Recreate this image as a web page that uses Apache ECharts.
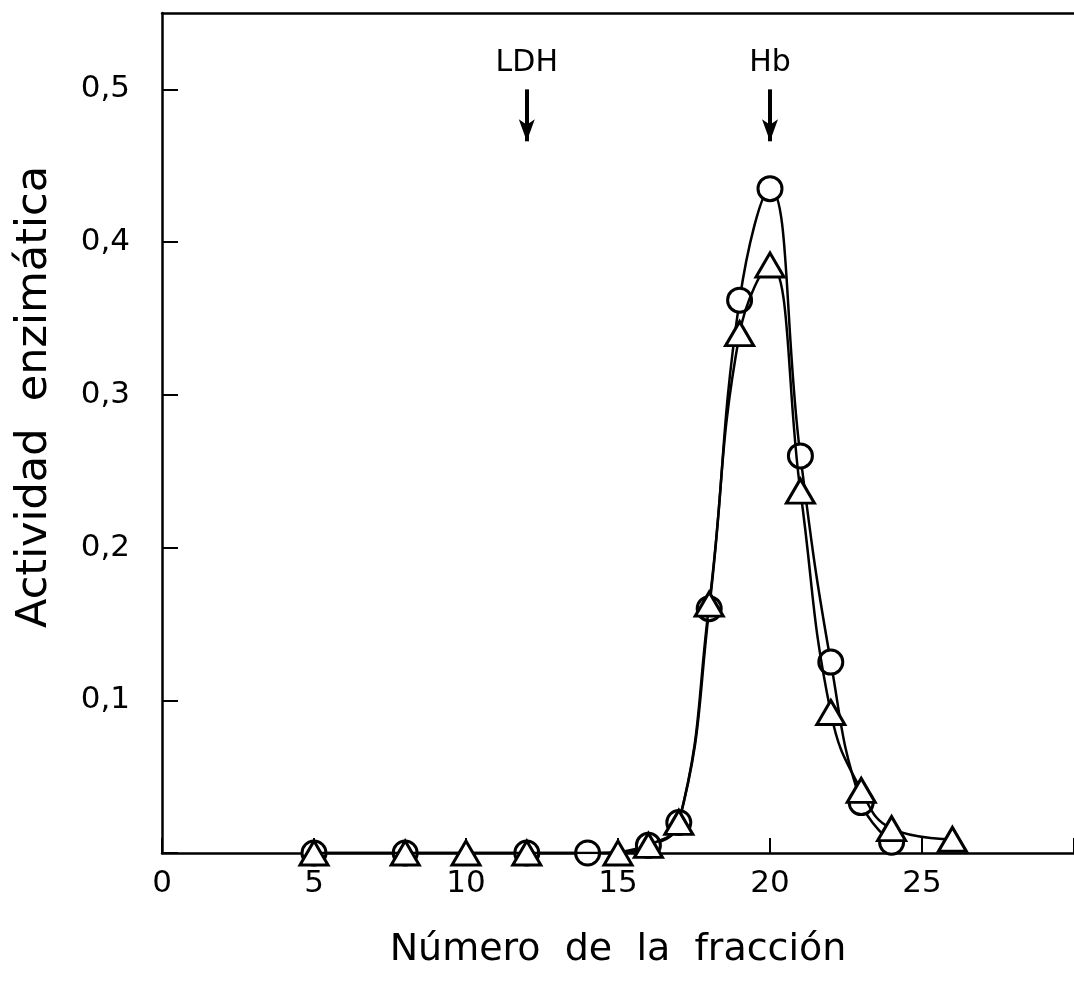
<!DOCTYPE html>
<html>
<head>
<meta charset="utf-8">
<script src="https://cdn.jsdelivr.net/npm/echarts@6/dist/echarts.min.js"></script>
<style>
  html, body { margin: 0; padding: 0; background: #fff; }
  #chart { width: 1074px; height: 985px; }
</style>
</head>
<body>
<div id="chart"></div>
<script>
// fracciones y actividad (circulos)
var circleX = [5, 8, 12, 14, 16, 17, 18, 19, 20, 21, 22, 23, 24];
var circleY = [0, 0, 0, 0, 0.005, 0.02, 0.16, 0.362, 0.435, 0.26, 0.125, 0.033, 0.007];
// triangulos
var triX = [5, 8, 10, 12, 15, 16, 17, 18, 19, 20, 21, 22, 23, 24, 26];
var triY = [0, 0, 0, 0, 0, 0.005, 0.02, 0.163, 0.34, 0.385, 0.237, 0.092, 0.041, 0.016, 0.009];
// marcadores LDH / Hb
var markerNames = ["LDH", "Hb"];
var markerX = [12, 20];
var xTicks = [0, 5, 10, 15, 20, 25];
var yTicks = [0.1, 0.2, 0.3, 0.4, 0.5];

var FONT = "DejaVu Sans";

function pairs(xs, ys) {
  var out = [];
  for (var i = 0; i < xs.length; i++) out.push([xs[i], ys[i]]);
  return out;
}

var arrowLines = [];
var arrowLabels = [];
for (var i = 0; i < markerNames.length; i++) {
  arrowLines.push([
    { coord: [markerX[i], 0.5] },
    { coord: [markerX[i], 0.466] }
  ]);
  arrowLabels.push({ coord: [markerX[i], 0.517], value: markerNames[i] });
}

var chart = echarts.init(document.getElementById("chart"));
var option = {
  animation: false,
  backgroundColor: "#fff",
  grid: {
    left: 162, right: 0, top: 13, bottom: 132,
    containLabel: false,
    outerBoundsMode: "none"
  },
  xAxis: [
    {
      type: "value",
      min: 0,
      max: 30,
      interval: 5,
      name: "Número  de  la  fracción",
      nameLocation: "middle",
      nameGap: 78,
      nameTextStyle: { fontFamily: FONT, fontSize: 38, color: "#000" },
      axisLine: { show: true, lineStyle: { color: "#000", width: 2.5 } },
      axisTick: { show: true, inside: true, length: 15, lineStyle: { color: "#000", width: 2 } },
      axisLabel: {
        fontFamily: FONT,
        fontSize: 31,
        color: "#000",
        margin: 15,
        formatter: function (v) { return xTicks.indexOf(v) >= 0 ? String(v) : ""; }
      },
      splitLine: { show: false }
    },
    {
      type: "value",
      position: "top",
      min: 0,
      max: 30,
      axisLine: { show: true, onZero: false, lineStyle: { color: "#000", width: 2.5 } },
      axisTick: { show: false },
      axisLabel: { show: false },
      splitLine: { show: false }
    }
  ],
  yAxis: {
    type: "value",
    min: 0,
    max: 0.55,
    interval: 0.1,
    name: "Actividad  enzimática",
    nameLocation: "middle",
    nameRotate: 90,
    nameGap: 106,
    nameTextStyle: { fontFamily: FONT, fontSize: 43, color: "#000", padding: [0, 0, 0, 72] },
    axisLine: { show: true, lineStyle: { color: "#000", width: 2.5 } },
    axisTick: { show: true, inside: true, length: 16, lineStyle: { color: "#000", width: 2 } },
    axisLabel: {
      fontFamily: FONT,
      fontSize: 31,
      color: "#000",
      margin: 32,
      showMaxLabel: false,
      formatter: function (v) {
        var r = Math.round(v * 10) / 10;
        if (yTicks.indexOf(r) < 0 || Math.abs(r - v) > 1e-6) return "";
        return r.toFixed(1).replace(".", ",");
      }
    },
    splitLine: { show: false }
  },
  series: [
    {
      name: "circulos",
      type: "line",
      data: pairs(circleX, circleY),
      smooth: 0.45,
      symbol: "circle",
      symbolSize: 24,
      showAllSymbol: true,
      lineStyle: { color: "#000", width: 2.5 },
      itemStyle: { color: "#fff", borderColor: "#000", borderWidth: 3 },
      z: 3,
      markLine: {
        silent: true,
        symbol: ["none", "arrow"],
        symbolSize: [12, 22],
        label: { show: false },
        lineStyle: { color: "#000", width: 4, type: "solid" },
        data: arrowLines
      },
      markPoint: {
        silent: true,
        symbol: "circle",
        symbolSize: 1,
        itemStyle: { color: "rgba(0,0,0,0)" },
        label: {
          show: true,
          position: "inside",
          fontFamily: FONT,
          fontSize: 30,
          color: "#000",
          formatter: function (p) { return p.value; }
        },
        data: arrowLabels
      }
    },
    {
      name: "triangulos",
      type: "line",
      data: pairs(triX, triY),
      smooth: 0.45,
      symbol: "triangle",
      symbolSize: [28, 24],
      showAllSymbol: true,
      lineStyle: { color: "#000", width: 2.5 },
      itemStyle: { color: "#fff", borderColor: "#000", borderWidth: 3 },
      z: 4
    }
  ]
};
chart.setOption(option);
</script>
</body>
</html>
